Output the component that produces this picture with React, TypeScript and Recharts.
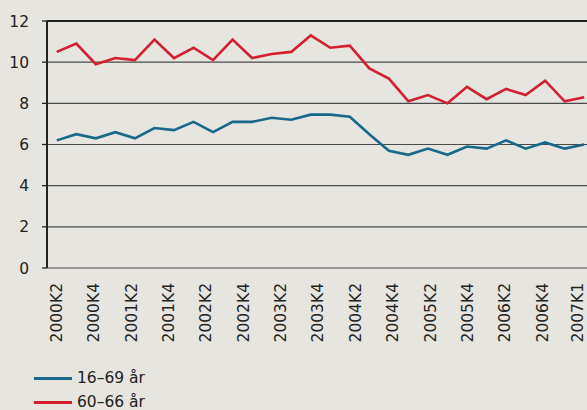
import React from "react";
import {
  LineChart,
  Line,
  XAxis,
  YAxis,
  CartesianGrid,
  ReferenceLine,
} from "recharts";

const quarters = [
  "2000K2", "2000K3", "2000K4",
  "2001K1", "2001K2", "2001K3", "2001K4",
  "2002K1", "2002K2", "2002K3", "2002K4",
  "2003K1", "2003K2", "2003K3", "2003K4",
  "2004K1", "2004K2", "2004K3", "2004K4",
  "2005K1", "2005K2", "2005K3", "2005K4",
  "2006K1", "2006K2", "2006K3", "2006K4",
  "2007K1",
];

const age16to69 = [
  6.2, 6.5, 6.3, 6.6, 6.3, 6.8, 6.7, 7.1, 6.6, 7.1, 7.1, 7.3, 7.2, 7.45,
  7.45, 7.35, 6.5, 5.7, 5.5, 5.8, 5.5, 5.9, 5.8, 6.2, 5.8, 6.1, 5.8, 6.0,
];

const age60to66 = [
  10.5, 10.9, 9.9, 10.2, 10.1, 11.1, 10.2, 10.7, 10.1, 11.1, 10.2, 10.4,
  10.5, 11.3, 10.7, 10.8, 9.7, 9.2, 8.1, 8.4, 8.0, 8.8, 8.2, 8.7, 8.4, 9.1,
  8.1, 8.3,
];

const yTicks = [0, 2, 4, 6, 8, 10, 12];

const series = [
  { key: "a", name: "16–69 år", color: "#1a6889", values: age16to69 },
  { key: "b", name: "60–66 år", color: "#d4202e", values: age60to66 },
];

const data = quarters.map((q, i) => ({
  quarter: q,
  idx: i,
  a: age16to69[i],
  b: age60to66[i],
}));

const font = "'DejaVu Sans', Verdana, sans-serif";
const ink = "#222";
const visibleWidth = 587;

const QuarterTick = (props: any) => {
  const { x, y, payload, index } = props;
  const last = quarters.length - 1;
  if (index % 2 !== 0 && index !== last) return null;
  // last label sits against the right edge of the frame
  const tx = index === last ? visibleWidth - 10 : x;
  return (
    <g transform={`translate(${tx},${y})`}>
      <text
        transform="rotate(-90)"
        textAnchor="end"
        dy="0.36em"
        fontSize={15.5}
        fontFamily={font}
        fill={ink}
      >
        {payload.value}
      </text>
    </g>
  );
};

export default function App() {
  return (
    <div
      style={{
        position: "absolute",
        left: 0,
        top: 0,
        width: visibleWidth,
        height: 410,
        overflow: "hidden",
        background: "#e6e5df",
        fontFamily: font,
      }}
    >
      <LineChart
        width={600}
        height={358}
        data={data}
        margin={{ top: 21, right: 6, bottom: 0, left: 0 }}
      >
        <CartesianGrid
          vertical={false}
          stroke="#4a4a4a"
          strokeWidth={1.2}
        />
        {/* boundary tick marks between quarters */}
        <XAxis
          xAxisId="marks"
          dataKey="idx"
          type="number"
          domain={[-0.5, 27.5]}
          ticks={quarters.map((_, i) => i - 0.5).concat([27.5])}
          allowDataOverflow
          height={0}
          tick={false}
          tickSize={5}
          tickLine={{ stroke: ink, strokeWidth: 1.3 }}
          axisLine={false}
        />
        {/* axis used by the lines */}
        <XAxis
          dataKey="quarter"
          scale="band"
          height={0}
          tick={false}
          tickLine={false}
          axisLine={{ stroke: ink, strokeWidth: 2 }}
        />
        {/* quarter labels, a touch tighter than the data like the original */}
        <XAxis
          xAxisId="labels"
          dataKey="quarter"
          scale="band"
          interval={0}
          padding={{ left: 0, right: 24 }}
          height={90}
          tickSize={0}
          tickMargin={15}
          tickLine={false}
          axisLine={false}
          tick={<QuarterTick />}
        />
        <YAxis
          width={47}
          domain={[0, 12]}
          ticks={yTicks}
          interval={0}
          tickSize={5}
          tickMargin={13}
          axisLine={{ stroke: ink, strokeWidth: 2 }}
          tickLine={{ stroke: ink, strokeWidth: 1.3 }}
          tick={{ fontSize: 15.5, fontFamily: font, fill: ink }}
        />
        <ReferenceLine y={12} stroke={ink} strokeWidth={2.2} />
        {series.map((s) => (
          <Line
            key={s.key}
            type="linear"
            dataKey={s.key}
            name={s.name}
            stroke={s.color}
            strokeWidth={2.6}
            dot={false}
            isAnimationActive={false}
          />
        ))}
      </LineChart>
      <div style={{ position: "absolute", left: 34, top: 366 }}>
        {series.map((s) => (
          <div
            key={s.key}
            style={{
              display: "flex",
              alignItems: "center",
              height: 24,
              fontSize: 15.5,
              color: ink,
            }}
          >
            <span
              style={{
                display: "inline-block",
                width: 38,
                height: 3,
                background: s.color,
                marginRight: 5,
              }}
            />
            <span>{s.name}</span>
          </div>
        ))}
      </div>
    </div>
  );
}
